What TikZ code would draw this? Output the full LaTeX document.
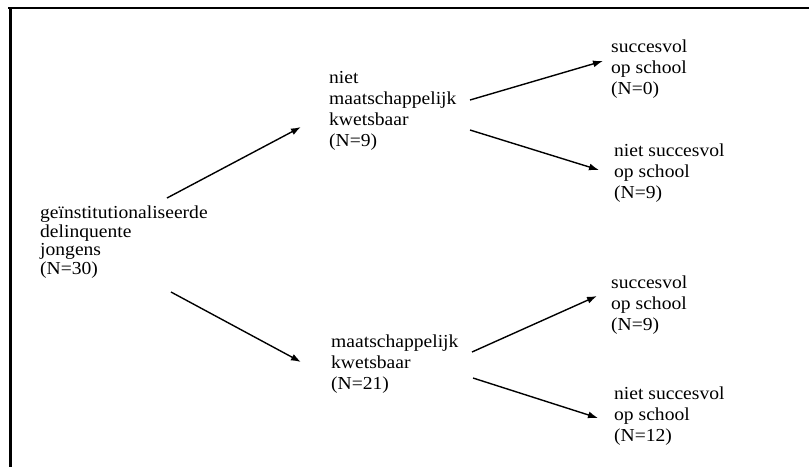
\documentclass[tikz,border=0pt]{standalone}
\usepackage{fontspec}
\setmainfont{Liberation Serif}[FakeStretch=1.07]
\usetikzlibrary{arrows.meta}
\begin{document}
\begin{tikzpicture}[x=1pt,y=-1pt,
  lbl/.style={anchor=north west,inner sep=0pt,align=left,font=\fontsize{18.3}{21}\selectfont},
  rootlbl/.style={lbl,font=\fontsize{18.3}{18.5}\selectfont},
  arr/.style={line width=1.4pt,-{Latex[length=10pt,width=7pt]}}]
\useasboundingbox (0,0) rectangle (809,467);
% frame
\draw[line width=2pt] (8,8) -- (809,8);
\draw[line width=3pt] (10,7) -- (10,467);
% nodes
\node[rootlbl] (root) at (40,206) {geïnstitutionaliseerde\\delinquente\\jongens\\(N=30)};
\node[lbl] (nmk) at (329,71.5) {niet\\maatschappelijk\\kwetsbaar\\(N=9)};
\node[lbl] (mk) at (331,334.5) {maatschappelijk\\kwetsbaar\\(N=21)};
\node[lbl] (s1) at (611,39.5) {succesvol\\op school\\(N=0)};
\node[lbl] (ns1) at (614,143.5) {niet succesvol\\op school\\(N=9)};
\node[lbl] (s2) at (611,275.5) {succesvol\\op school\\(N=9)};
\node[lbl] (ns2) at (614,386.5) {niet succesvol\\op school\\(N=12)};
% connector ends
\coordinate (a1s) at (167,198); \coordinate (a1e) at (301,127);
\coordinate (a2s) at (171,292); \coordinate (a2e) at (301,362);
\coordinate (a3s) at (470,100); \coordinate (a3e) at (603,61);
\coordinate (a4s) at (470,130); \coordinate (a4e) at (599,170);
\coordinate (a5s) at (472,352); \coordinate (a5e) at (597,296);
\coordinate (a6s) at (473,378); \coordinate (a6e) at (598,418);
\draw[arr] (a1s) -- (a1e);
\draw[arr] (a2s) -- (a2e);
\draw[arr] (a3s) -- (a3e);
\draw[arr] (a4s) -- (a4e);
\draw[arr] (a5s) -- (a5e);
\draw[arr] (a6s) -- (a6e);
\end{tikzpicture}
\end{document}
